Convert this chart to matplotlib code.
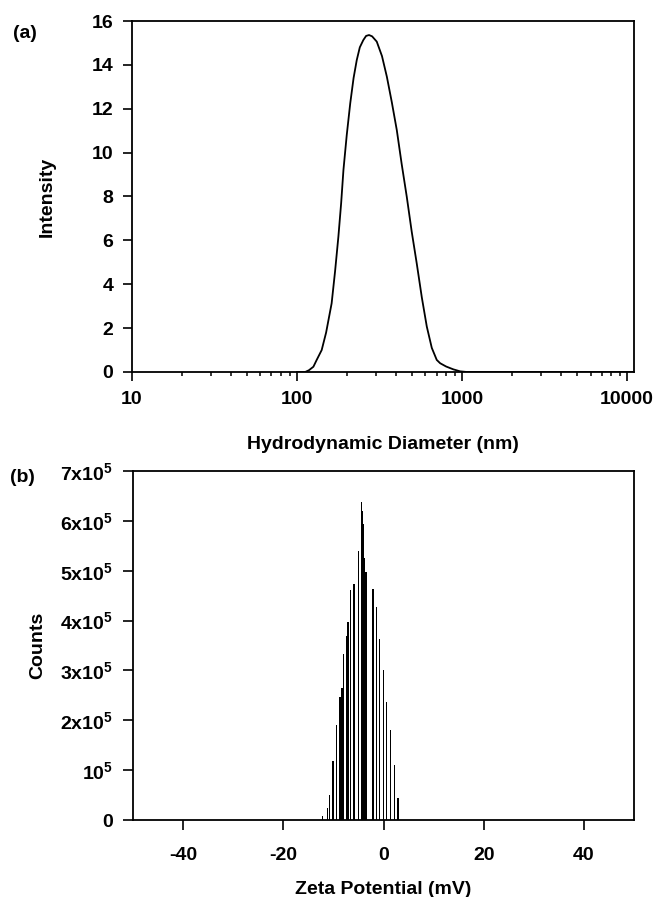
import numpy as np
import matplotlib
matplotlib.use('Agg')
import matplotlib.pyplot as plt
from matplotlib.ticker import FixedLocator, FixedFormatter, LogLocator, NullFormatter

plt.rcParams['font.family'] = ['Liberation Sans', 'DejaVu Sans']
plt.rcParams['font.weight'] = 'bold'
plt.rcParams['axes.unicode_minus'] = False
plt.rcParams['mathtext.fontset'] = 'custom'
plt.rcParams['mathtext.rm'] = 'Liberation Sans:bold'
plt.rcParams['mathtext.bf'] = 'Liberation Sans:bold'
plt.rcParams['mathtext.default'] = 'rm'

# (a) size distribution
diameter = [100, 112, 118, 125.6, 131.5, 141, 150, 162, 170, 178, 185, 191, 200, 210,
            220, 230, 240, 252, 262, 273, 285, 304, 327, 350, 375, 402, 430, 462,
            495, 531, 570, 611, 655, 702, 736, 800, 885, 973, 1070, 11000]
intensity = [0, 0, 0.08, 0.24, 0.55, 1.0, 1.8, 3.13, 4.6, 6.17, 7.7, 9.21, 10.8, 12.25,
             13.4, 14.22, 14.8, 15.13, 15.32, 15.36, 15.3, 15.06, 14.4, 13.46, 12.3, 11.03, 9.5, 7.99,
             6.4, 4.95, 3.4, 2.07, 1.1, 0.55, 0.4, 0.25, 0.12, 0.03, 0, 0]

# (b) zeta potential histogram
zeta = [-12.2, -11.15, -10.75, -10.1, -9.4, -8.7, -8.3, -7.95, -7.35, -7.1, -6.55,
        -5.9, -5.05, -4.45, -4.25, -4.05, -3.8, -3.5, -2.1, -1.4, -0.75, -0.05,
        0.65, 1.4, 2.2, 2.9]
counts = [8000, 24000, 50000, 118000, 190000, 246000, 264000, 333000, 370000, 398000, 462000,
          473000, 540000, 638000, 620000, 594000, 526000, 497000, 464000, 427000, 364000, 300000,
          237000, 180000, 110000, 44000]

a_ticks = [0, 2, 4, 6, 8, 10, 12, 14, 16]
b_ticks = [0, 1e5, 2e5, 3e5, 4e5, 5e5, 6e5, 7e5]
b_labels = ['0', '10$^{5}$', '2x10$^{5}$', '3x10$^{5}$', '4x10$^{5}$',
            '5x10$^{5}$', '6x10$^{5}$', '7x10$^{5}$']

W, H = 656, 897
fig = plt.figure(figsize=(W / 100, H / 100), dpi=100)
ax1 = fig.add_axes([132 / W, 1 - 372 / H, 502 / W, 351 / H])
ax2 = fig.add_axes([133 / W, 1 - 820 / H, 501 / W, 349 / H])

fs = 14

ax1.plot(diameter, intensity, color='black', lw=1.3)
ax1.set_xscale('log')
ax1.set_xlim(10, 11000)
ax1.set_ylim(0, 16)
ax1.xaxis.set_major_locator(FixedLocator([10, 100, 1000, 10000]))
ax1.xaxis.set_major_formatter(FixedFormatter(['10', '100', '1000', '10000']))
ax1.xaxis.set_minor_locator(LogLocator(base=10, subs=np.arange(2, 10)))
ax1.xaxis.set_minor_formatter(NullFormatter())
ax1.set_yticks(a_ticks)
ax1.set_xlabel('Hydrodynamic Diameter (nm)', fontsize=fs, fontweight='bold', labelpad=20)
ax1.set_ylabel('Intensity', fontsize=fs, fontweight='bold', labelpad=26)

ax2.bar(zeta, counts, width=0.25, color='black', linewidth=0)
ax2.set_xlim(-50, 50)
ax2.set_ylim(0, 7e5)
ax2.set_xticks([-40, -20, 0, 20, 40])
ax2.yaxis.set_major_locator(FixedLocator(b_ticks))
ax2.yaxis.set_major_formatter(FixedFormatter(b_labels))
ax2.set_xlabel('Zeta Potential (mV)', fontsize=fs, fontweight='bold', labelpad=12)
ax2.set_ylabel('Counts', fontsize=fs, fontweight='bold', labelpad=10)

for ax in (ax1, ax2):
    for s in ax.spines.values():
        s.set_linewidth(1.3)
    ax.tick_params(which='minor', direction='out', length=3.2, width=1.1, top=False, right=False)
    for lab in ax.get_xticklabels() + ax.get_yticklabels():
        lab.set_fontweight('bold')

ax1.tick_params(which='major', direction='out', length=6.5, width=1.2,
                labelsize=fs, pad=7, top=False, right=False)
ax2.tick_params(which='major', direction='out', length=7.5, width=1.2,
                labelsize=fs, pad=7, top=False, right=False)
ax2.tick_params(axis='x', pad=12)

fig.text(13 / W, 1 - 33 / H, '(a)', fontsize=fs, fontweight='bold', va='center')
fig.text(10 / W, 1 - 477 / H, '(b)', fontsize=fs, fontweight='bold', va='center')

fig.savefig('out.png', dpi=100)
